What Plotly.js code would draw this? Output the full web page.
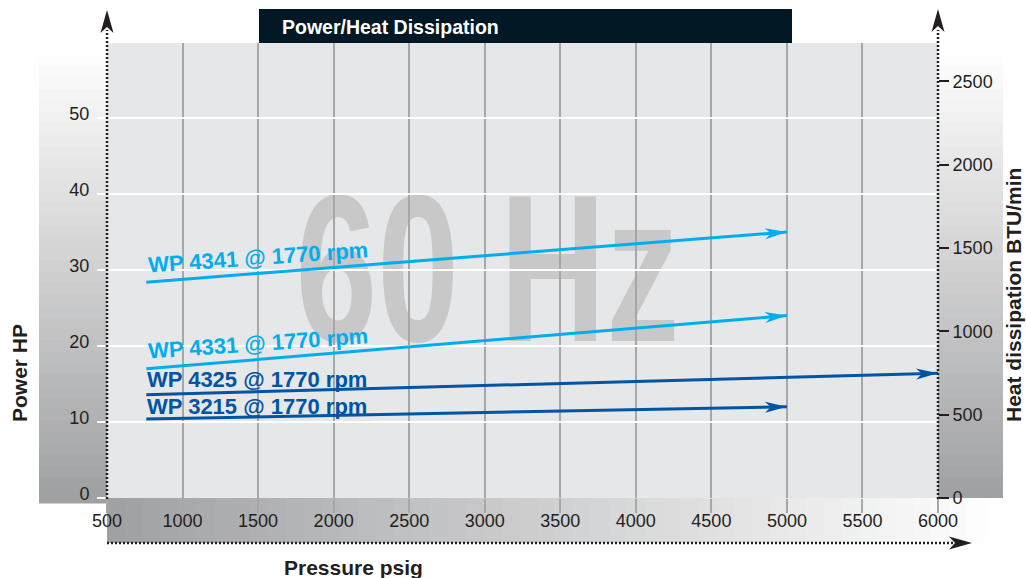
<!DOCTYPE html>
<html>
<head>
<meta charset="utf-8">
<script src="https://cdn.plot.ly/plotly-3.0.1.min.js"></script>
<style>
  html, body { margin: 0; padding: 0; background: #fff; }
  #chart { width: 1026px; height: 578px; }
</style>
</head>
<body>
<div id="chart"></div>
<script>
// Values
const models = ['WP 4341', 'WP 4331', 'WP 4325', 'WP 3215'];
const speedRpm = [1770, 1770, 1770, 1770];
const pressureStart = [760, 760, 760, 760];
const pressureEnd = [5000, 5000, 6000, 5000];
const powerStart = [28.4, 17.0, 13.6, 10.4];
const powerEnd = [35.0, 24.0, 16.4, 12.0];
const pressureTicks = [500, 1000, 1500, 2000, 2500, 3000, 3500, 4000, 4500, 5000, 5500, 6000];
const powerTicks = [0, 10, 20, 30, 40, 50];
const heatTicks = [0, 500, 1000, 1500, 2000, 2500];

// Styling / geometry
const colors = ['#00aeef', '#00aeef', '#0054a4', '#0054a4'];
const labelAngle = [-4, -4, 0, 0];
const labelY = [31.6, 20.3, 15.6, 12.1];
const labelX = 750;
const WATERMARK = '60 Hz';

const SANS = '"Liberation Sans", Arial, sans-serif';
const INK = '#231f20';

const W = 1026, H = 578;
const M = { l: 107, r: 88, t: 43, b: 80 };
const plotW = W - M.l - M.r;
const plotH = H - M.t - M.b;
const xRange = [500, 6000];
const yRange = [0, 59.87];
const y2Range = [0, 2730];

// page pixel -> paper fraction
function px(x) { return (x - M.l) / plotW; }
function py(y) { return (H - M.b - y) / plotH; }

function mix(c0, c1, t) {
    const c = c0.map((v, k) => Math.round(v + (c1[k] - v) * t));
    return 'rgb(' + c.join(',') + ')';
}

// stepped gradient out of thin rectangles
function gradient(x0, x1, y0, y1, c0, c1, steps, horizontal) {
    const out = [];
    for (let i = 0; i < steps; i++) {
        const t = i / (steps - 1);
        const s = {
            type: 'rect', xref: 'paper', yref: 'paper', layer: 'below',
            line: { width: 0 }, fillcolor: mix(c0, c1, t)
        };
        if (horizontal) {
            s.x0 = x0 + (x1 - x0) * i / steps;
            s.x1 = x0 + (x1 - x0) * (i + 1.3) / steps;
            s.y0 = y0; s.y1 = y1;
        } else {
            s.y0 = y0 + (y1 - y0) * i / steps;
            s.y1 = y0 + (y1 - y0) * (i + 1.3) / steps;
            s.x0 = x0; s.x1 = x1;
        }
        out.push(s);
    }
    return out;
}

// barbed arrow head, tip at (0,0), angle in degrees (0 = right, 90 = up)
function headPath(angleDeg, len, half, notch) {
    const a = angleDeg * Math.PI / 180, c = Math.cos(a), s = Math.sin(a);
    const pts = [[0, 0], [-len, half], [-notch, 0], [-len, -half]];
    return 'M' + pts.map(p => (p[0] * c - p[1] * s).toFixed(2) + ',' + (p[0] * s + p[1] * c).toFixed(2)).join('L') + 'Z';
}

const traces = models.map((m, i) => ({
    type: 'scatter',
    mode: 'lines',
    name: m,
    x: [pressureStart[i], pressureEnd[i]],
    y: [powerStart[i], powerEnd[i]],
    line: { color: colors[i], width: 3 },
    hoverinfo: 'skip',
    showlegend: false
}));
// keeps the heat axis on the right
traces.push({ type: 'scatter', mode: 'markers', x: [], y: [], yaxis: 'y2', showlegend: false, hoverinfo: 'skip' });

const shapes = [];
const white = [255, 255, 255], grey = [160, 161, 163];
shapes.push(...gradient(px(39), 0, 1, py(500), white, grey, 40, false));
shapes.push(...gradient(1, px(1003), 1, py(500), white, grey, 40, false));
shapes.push(...gradient(0, px(1003), py(543), 0, grey, white, 50, true));

// big watermark behind the grid
shapes.push({
    type: 'rect', xref: 'paper', yref: 'paper', layer: 'below',
    x0: px(280), x1: px(695), y0: py(334), y1: py(164),
    line: { width: 0 }, fillcolor: 'rgba(0,0,0,0)',
    label: {
        text: WATERMARK, textposition: 'middle center', padding: 0,
        font: { family: SANS, size: 210, color: '#c8c8c9', weight: 'bold' }
    }
});

// title bar
shapes.push({
    type: 'rect', xref: 'paper', yref: 'paper', layer: 'above',
    x0: px(259), x1: px(792), y0: 1, y1: py(9),
    line: { width: 0 }, fillcolor: '#021824'
});

// dotted axes with arrow heads
const dotted = { color: INK, width: 2.5, dash: '2px,2px' };
shapes.push({ type: 'line', xref: 'paper', yref: 'paper', layer: 'above', x0: 0, x1: 0, y0: py(499), y1: py(30), line: dotted });
shapes.push({ type: 'line', xref: 'paper', yref: 'paper', layer: 'above', x0: 1, x1: 1, y0: py(499), y1: py(30), line: dotted });
shapes.push({ type: 'line', xref: 'paper', yref: 'paper', layer: 'above', x0: 0, x1: px(955), y0: py(543), y1: py(543), line: dotted });
const axisHead = (xa, ya, ang) => ({
    type: 'path', xref: 'paper', yref: 'paper', layer: 'above',
    xsizemode: 'pixel', ysizemode: 'pixel', xanchor: xa, yanchor: ya,
    path: headPath(ang, 23, 6.5, 17), fillcolor: INK, line: { width: 0 }
});
shapes.push(axisHead(0, py(10), 90));
shapes.push(axisHead(1, py(9), 90));
shapes.push(axisHead(px(972), py(543), 0));

// arrow heads at the end of each series, turned along the line
const pxPerX = plotW / (xRange[1] - xRange[0]);
const pxPerY = plotH / (yRange[1] - yRange[0]);
models.forEach((m, i) => {
    const ang = Math.atan2((powerEnd[i] - powerStart[i]) * pxPerY,
                           (pressureEnd[i] - pressureStart[i]) * pxPerX) * 180 / Math.PI;
    shapes.push({
        type: 'path', xref: 'x', yref: 'y', layer: 'above',
        xsizemode: 'pixel', ysizemode: 'pixel',
        xanchor: pressureEnd[i], yanchor: powerEnd[i],
        path: headPath(ang, 22, 5.5, 16), fillcolor: colors[i], line: { width: 0 }
    });
});

const annotations = models.map((m, i) => ({
    xref: 'x', yref: 'y', x: labelX, y: labelY[i],
    xanchor: 'left', yanchor: 'middle', showarrow: false,
    text: m + ' @ ' + speedRpm[i] + ' rpm', textangle: labelAngle[i],
    font: { family: SANS, size: 22, color: colors[i], weight: 'bold' }
}));
annotations.push(
    {
        xref: 'paper', yref: 'paper', x: px(280), y: py(27), xanchor: 'left', yanchor: 'middle',
        showarrow: false, text: 'Power/Heat Dissipation',
        font: { family: SANS, size: 19.5, color: '#ffffff', weight: 'bold' }
    },
    {
        xref: 'paper', yref: 'paper', x: px(19), y: py(373), xanchor: 'center', yanchor: 'middle',
        textangle: -90, showarrow: false,
        text: 'Power HP', font: { family: SANS, size: 21, color: INK, weight: 'bold' }
    },
    {
        xref: 'paper', yref: 'paper', x: px(353), y: py(567), xanchor: 'center', yanchor: 'middle',
        showarrow: false,
        text: 'Pressure psig', font: { family: SANS, size: 21, color: INK, weight: 'bold' }
    },
    {
        xref: 'paper', yref: 'paper', x: px(1013), y: py(295), xanchor: 'center', yanchor: 'middle',
        textangle: -90, showarrow: false,
        text: 'Heat dissipation BTU/min', font: { family: SANS, size: 21, color: INK, weight: 'bold' }
    }
);

const tickFont = { family: SANS, size: 18, color: INK };

const layout = {
    width: W, height: H,
    margin: M,
    paper_bgcolor: '#ffffff',
    plot_bgcolor: '#e6e7e8',
    showlegend: false,
    xaxis: {
        range: xRange, tickvals: pressureTicks, ticktext: pressureTicks.map(String),
        ticks: 'outside', ticklen: 14, tickwidth: 2, tickcolor: '#a7a7a7',
        showgrid: true, gridcolor: '#a7a7a7', gridwidth: 2,
        zeroline: false, showline: false, tickfont: tickFont,
        ticklabelstandoff: -8, fixedrange: true
    },
    yaxis: {
        range: yRange, tickvals: powerTicks,
        ticks: 'outside', ticklen: 9, tickwidth: 2.5, tickcolor: '#ffffff',
        showgrid: true, gridcolor: '#ffffff', gridwidth: 2.5,
        zeroline: false, showline: false, tickfont: tickFont,
        ticklabelshift: -4, ticklabelstandoff: 4, fixedrange: true
    },
    yaxis2: {
        overlaying: 'y', side: 'right', range: y2Range, tickvals: heatTicks,
        ticks: 'outside', ticklen: 10, tickwidth: 2, tickcolor: INK,
        showgrid: false, zeroline: false, showline: false, tickfont: tickFont, fixedrange: true
    },
    shapes: shapes,
    annotations: annotations
};

Plotly.newPlot('chart', traces, layout, { staticPlot: true, displayModeBar: false }).then(gd => {
    // squeeze the watermark sideways: the reference uses a tall condensed face
    gd.querySelectorAll('text').forEach(t => {
        if (t.textContent.trim() !== WATERMARK) return;
        const b = t.getBBox();
        const cx = b.x + b.width / 2;
        const prev = t.getAttribute('transform') || '';
        t.setAttribute('transform', 'translate(' + cx + ',0) scale(0.7,1) translate(' + (-cx) + ',0) ' + prev);
    });
});
</script>
</body>
</html>
